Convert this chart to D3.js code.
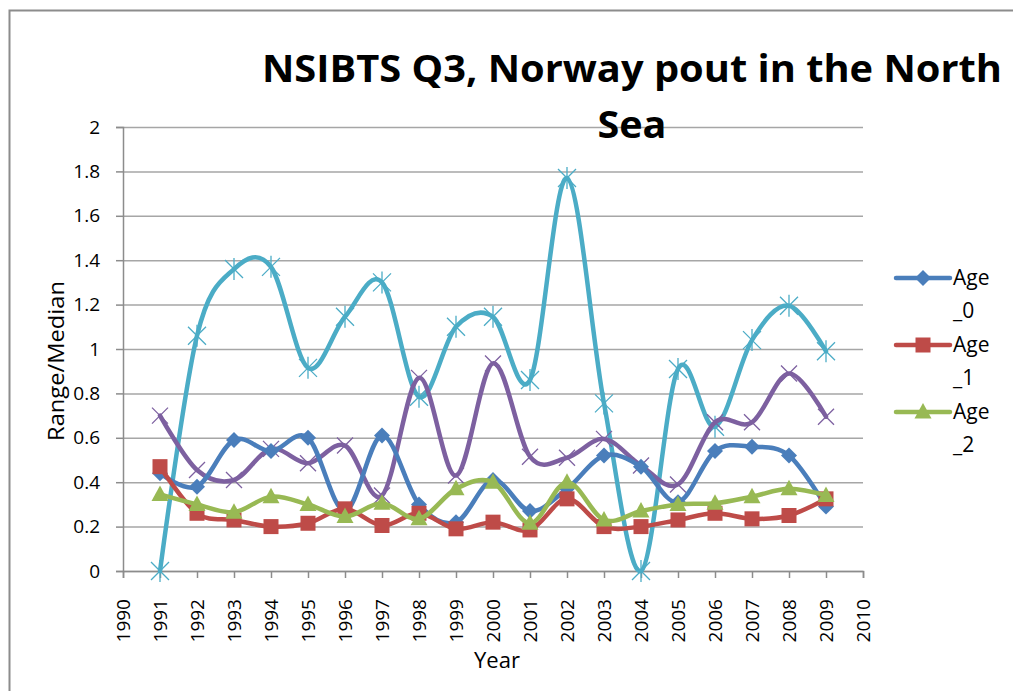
<!DOCTYPE html>
<html>
<head>
<meta charset="utf-8">
<script src="https://cdn.jsdelivr.net/npm/d3@7"></script>
<style>
  body { margin: 0; background: #fff; }
  text { font-family: "Open Sans", "DejaVu Sans", sans-serif; }
</style>
</head>
<body>
<div id="wrapper"></div>
<script>
const years = [1991, 1992, 1993, 1994, 1995, 1996, 1997, 1998, 1999, 2000,
               2001, 2002, 2003, 2004, 2005, 2006, 2007, 2008, 2009]
const age0 = [0.44, 0.38, 0.59, 0.54, 0.60, 0.27, 0.61, 0.30, 0.22, 0.41,
              0.27, 0.37, 0.52, 0.47, 0.31, 0.54, 0.56, 0.52, 0.29]
const age1 = [0.47, 0.26, 0.23, 0.20, 0.215, 0.28, 0.205, 0.26, 0.19, 0.22,
              0.185, 0.325, 0.20, 0.20, 0.23, 0.26, 0.235, 0.25, 0.325]
const age2 = [0.345, 0.30, 0.265, 0.335, 0.30, 0.245, 0.305, 0.235, 0.37, 0.40,
              0.215, 0.40, 0.23, 0.27, 0.30, 0.305, 0.335, 0.37, 0.34]
const age3 = [0.70, 0.455, 0.41, 0.55, 0.485, 0.565, 0.34, 0.87, 0.43, 0.935,
              0.515, 0.51, 0.595, 0.475, 0.39, 0.67, 0.67, 0.89, 0.695]
const age4 = [0.0, 1.06, 1.36, 1.37, 0.915, 1.145, 1.30, 0.785, 1.10, 1.145,
              0.86, 1.77, 0.755, 0.0, 0.91, 0.65, 1.04, 1.195, 0.99]
const yTicks = [0, 0.2, 0.4, 0.6, 0.8, 1, 1.2, 1.4, 1.6, 1.8, 2]
const xTicks = d3.range(1990, 2011)
const titleLines = ["NSIBTS Q3, Norway pout in the North", "Sea"]

const series = [
  {name: "Age_0", values: age0, color: "#4A7EBB", marker: "diamond", legend: true},
  {name: "Age_1", values: age1, color: "#BE4B48", marker: "square", legend: true},
  {name: "Age_2", values: age2, color: "#98B954", marker: "triangle", legend: true},
  {name: "Age_3", values: age3, color: "#7D60A0", marker: "cross", legend: false},
  {name: "Age_4", values: age4, color: "#4BACC6", marker: "star", legend: false},
]

const dimensions = {
  width: 1013,
  height: 691,
  margin: {top: 127, right: 150, bottom: 120, left: 123},
}
dimensions.boundedWidth = 740
dimensions.boundedHeight = 444

const svg = d3.select("#wrapper").append("svg")
  .attr("width", dimensions.width)
  .attr("height", dimensions.height)

// outer chart frame (right and bottom edges fall outside the picture)
svg.append("rect")
  .attr("x", 9.5).attr("y", 10.5)
  .attr("width", 1020).attr("height", 700)
  .attr("fill", "none").attr("stroke", "#8c8c8c").attr("stroke-width", 2)

const bounds = svg.append("g")
  .attr("transform", `translate(${dimensions.margin.left},${dimensions.margin.top})`)

const xScale = d3.scaleLinear().domain([1990, 2010]).range([0, dimensions.boundedWidth])
const yScale = d3.scaleLinear().domain([0, 2]).range([dimensions.boundedHeight, 0])

// gridlines
bounds.append("g")
  .call(d3.axisLeft(yScale).tickValues(yTicks).tickSize(-dimensions.boundedWidth).tickFormat(""))
  .call(g => g.select(".domain").remove())
  .call(g => g.selectAll("line").attr("stroke", "#a6a6a6").attr("stroke-width", 1.5))

// y axis
bounds.append("g")
  .call(d3.axisLeft(yScale).tickValues(yTicks).tickSize(7).tickPadding(16)
    .tickFormat(d => d3.format("~g")(d)))
  .call(g => g.select(".domain").attr("stroke", "#8c8c8c").attr("stroke-width", 1.5))
  .call(g => g.selectAll("line").attr("stroke", "#8c8c8c").attr("stroke-width", 1.5))
  .call(g => g.selectAll("text").attr("font-size", 19).attr("fill", "#000")
    .style("font-family", "'Open Sans', sans-serif"))

// x axis
bounds.append("g")
  .attr("transform", `translate(0,${dimensions.boundedHeight})`)
  .call(d3.axisBottom(xScale).tickValues(xTicks).tickSize(7).tickFormat(d3.format("d")))
  .call(g => g.select(".domain").attr("stroke", "#8c8c8c").attr("stroke-width", 1.5))
  .call(g => g.selectAll("line").attr("stroke", "#8c8c8c").attr("stroke-width", 1.5))
  .call(g => g.selectAll("text")
    .attr("font-size", 19).attr("fill", "#000")
    .style("font-family", "'Open Sans', sans-serif")
    .attr("text-anchor", "end")
    .attr("dy", "0.35em")
    .attr("transform", "translate(0,26) rotate(-90)")
    .attr("y", 0).attr("x", -2))

// axis titles
svg.append("text")
  .attr("x", 497).attr("y", 668)
  .attr("text-anchor", "middle")
  .attr("font-size", 22)
  .attr("textLength", 46)
  .attr("lengthAdjust", "spacingAndGlyphs")
  .text("Year")

svg.append("text")
  .attr("transform", "translate(64,361) rotate(-90)")
  .attr("text-anchor", "middle")
  .attr("font-size", 22)
  .attr("textLength", 160)
  .attr("lengthAdjust", "spacingAndGlyphs")
  .text("Range/Median")

// title
svg.append("g").selectAll("text")
  .data(titleLines)
  .join("text")
  .attr("x", 632)
  .attr("y", (d, i) => 82 + i * 56)
  .attr("text-anchor", "middle")
  .attr("font-size", 38)
  .attr("font-weight", "bold")
  .attr("textLength", d => d.length > 5 ? 740 : 69)
  .attr("lengthAdjust", "spacingAndGlyphs")
  .text(d => d)

// series lines
const line = d3.line()
  .x((d, i) => xScale(years[i]))
  .y(d => yScale(d))
  .curve(d3.curveCatmullRom.alpha(0))

function drawMarker(g, type, color) {
  if (type === "diamond") {
    g.append("path").attr("d", "M0,-8L8,0L0,8L-8,0Z").attr("fill", color)
  } else if (type === "square") {
    g.append("rect").attr("x", -7.5).attr("y", -7.5).attr("width", 15).attr("height", 15).attr("fill", color)
  } else if (type === "triangle") {
    g.append("path").attr("d", "M0,-9L8.5,6.5L-8.5,6.5Z").attr("fill", color)
  } else if (type === "cross") {
    g.append("path").attr("d", "M-8,-8L8,8M-8,8L8,-8").attr("stroke", color).attr("stroke-width", 1.3).attr("fill", "none")
  } else if (type === "star") {
    g.append("path").attr("d", "M-9,-9L9,9M-9,9L9,-9M0,-11L0,11").attr("stroke", color).attr("stroke-width", 1.3).attr("fill", "none")
  }
}

const drawOrder = [4, 3, 0, 1, 2]
drawOrder.forEach(k => {
  const s = series[k]
  bounds.append("path")
    .attr("d", line(s.values))
    .attr("fill", "none")
    .attr("stroke", s.color)
    .attr("stroke-width", 4.5)
    .attr("stroke-linejoin", "round")
    .attr("stroke-linecap", "round")
  s.values.forEach((v, i) => {
    const g = bounds.append("g")
      .attr("transform", `translate(${xScale(years[i])},${yScale(v)})`)
    drawMarker(g, s.marker, s.color)
  })
})

// legend
const legend = svg.append("g")
series.filter(s => s.legend).forEach((s, i) => {
  const y = 278 + i * 67
  legend.append("line")
    .attr("x1", 896).attr("x2", 950).attr("y1", y).attr("y2", y)
    .attr("stroke", s.color).attr("stroke-width", 4.5).attr("stroke-linecap", "round")
  const g = legend.append("g").attr("transform", `translate(923,${y})`)
  drawMarker(g, s.marker, s.color)
  const parts = s.name.split("_")
  legend.append("text")
    .attr("x", 953).attr("y", y + 7)
    .attr("font-size", 21)
    .text(parts[0])
  legend.append("text")
    .attr("x", 953).attr("y", y + 40)
    .attr("font-size", 21)
    .text("_" + parts[1])
})
</script>
</body>
</html>
